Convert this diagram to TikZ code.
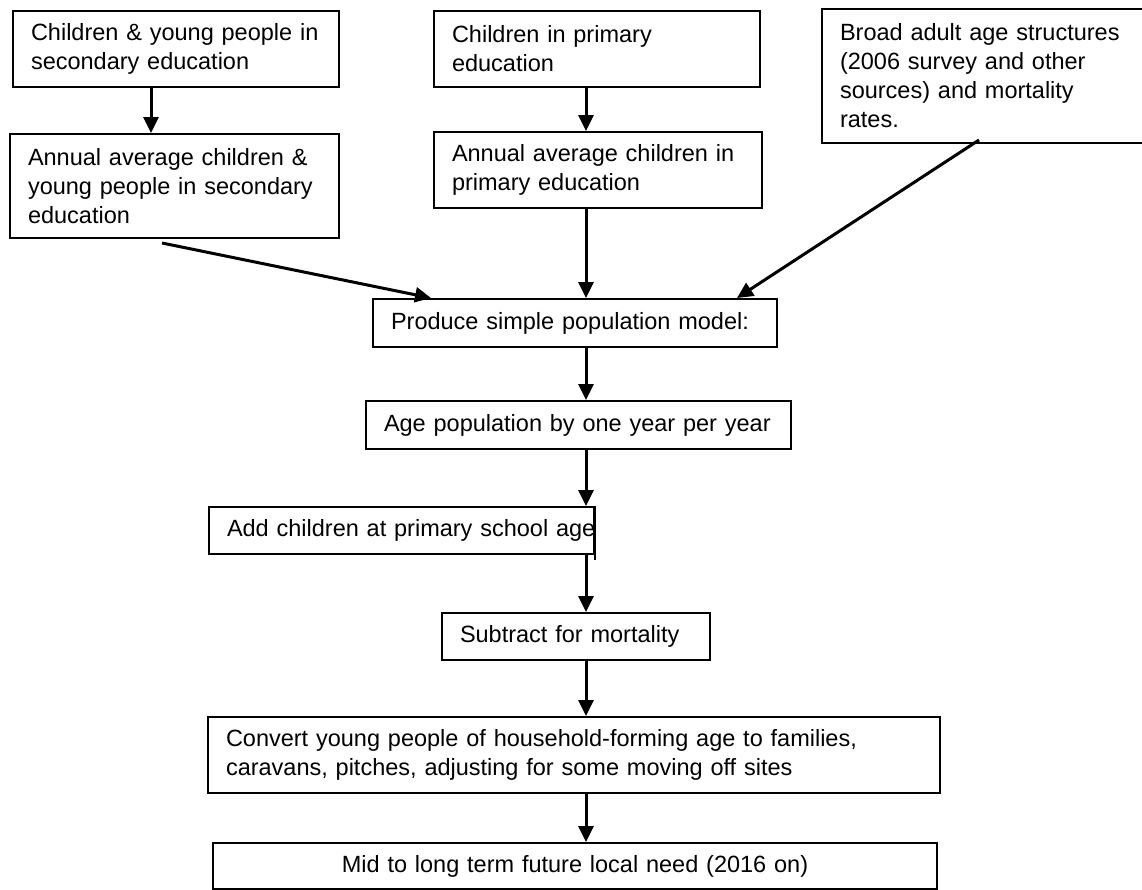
\documentclass[tikz,border=0pt]{standalone}
\usepackage{fontspec}
\setmainfont{Liberation Sans}
\usepackage{xcolor}
\usetikzlibrary{arrows.meta}

\hyphenpenalty=10000

\begin{document}
\begin{tikzpicture}[x=1pt, y=-1pt,
	stepbox/.style={draw, line width=2pt, rectangle, anchor=north west, align=left, inner xsep=18pt, inner ysep=0pt, font=\fontsize{23.5}{29}\selectfont},
	flow/.style={line width=3pt, -{Triangle[length=16pt, width=15pt]}}]

\useasboundingbox (0,0) rectangle (1142,889);
\clip (0,0) rectangle (1142,889);

\node[stepbox, minimum height=76pt, text width=290pt] (secIn) at (12,10) {Children~\&~young~people~in\\ secondary education};

\node[stepbox, minimum height=104pt, text width=293pt] (secAvg) at (9,133) {Annual average children \&\\ young people in secondary\\ education};

\node[stepbox, minimum height=76pt, text width=290pt] (priIn) at (433,10) {Children in primary\\ education};

\node[stepbox, minimum height=76pt, text width=292pt] (priAvg) at (433,131) {Annual average children in\\ primary education};

\node[stepbox, minimum height=134pt, text width=294pt] (adult) at (821,8) {Broad adult age structures\\ (2006 survey and other\\ sources) and mortality\\ rates.};

\node[stepbox, minimum height=48pt, text width=368pt] (model) at (372,298) {Produce simple population model:};

\node[stepbox, minimum height=48pt, text width=389pt] (ageing) at (365,400) {Age~population~by~one~year~per~year};

\node[stepbox, minimum height=47pt, text width=349pt] (addKids) at (208,506) {Add~children~at~primary~school~age};
\draw[line width=2pt] (addKids.north east) -- ([yshift=-5pt]addKids.south east);

\node[stepbox, minimum height=47pt, text width=232pt] (mortality) at (441,612) {Subtract for mortality};

\node[stepbox, minimum height=76pt, text width=696pt] (convert) at (207,716) {Convert young people of household-forming age to families,\\ caravans, pitches, adjusting for some moving off sites};

\node[stepbox, minimum height=46pt, text width=688pt, align=center] (need) at (212,842) {Mid to long term future local need (2016 on)};

% arrows
\coordinate (secCol) at (151,0);
\coordinate (spine) at (586,0);

\draw[flow] (secIn.south -| secCol) -- (secAvg.north -| secCol);
\draw[flow] (priIn.south -| spine) -- (priAvg.north -| spine);

\draw[flow] ([xshift=153pt, yshift=-4pt]secAvg.south west) -- ([xshift=59pt]model.north west);
\draw[flow] (priAvg.south -| spine) -- (model.north -| spine);
\draw[flow] ([xshift=158pt, yshift=4pt]adult.south west) -- ([xshift=365pt]model.north west);

\draw[flow] (model.south -| spine) -- (ageing.north -| spine);
\draw[flow] (ageing.south -| spine) -- (addKids.north -| spine);
\draw[flow] (addKids.south -| spine) -- (mortality.north -| spine);
\draw[flow] (mortality.south -| spine) -- (convert.north -| spine);
\draw[flow] (convert.south -| spine) -- (need.north -| spine);

\end{tikzpicture}
\end{document}
